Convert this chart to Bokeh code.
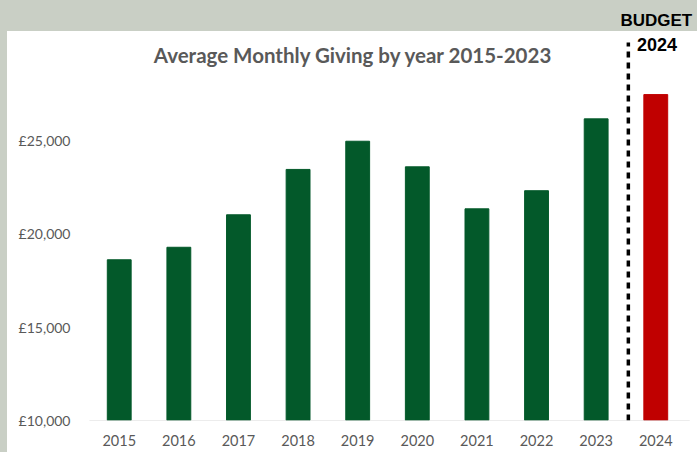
from bokeh.plotting import figure
from bokeh.models import (FactorRange, Range1d, FixedTicker, CustomJSTickFormatter,
                          Label, ColumnDataSource)
from bokeh.embed import file_html
from bokeh.resources import INLINE

years = ["2015", "2016", "2017", "2018", "2019", "2020", "2021", "2022", "2023", "2024"]
giving = [18610, 19280, 21020, 23450, 24960, 23590, 21340, 22310, 26160, 27460]
bar_colors = ["#03592a"] * 9 + ["#c00000"]
y_ticks = [10000, 15000, 20000, 25000]
title_text = "Average Monthly Giving by year 2015-2023"
budget_text = "BUDGET"
budget_year = "2024"

src = ColumnDataSource(dict(year=years, value=giving, color=bar_colors))

p = figure(width=697, height=452, output_backend="svg", toolbar_location=None,
           x_range=FactorRange(*years, range_padding=0.2, range_padding_units="absolute"),
           y_range=Range1d(10000, 32500),
           min_border_left=77, min_border_right=0, min_border_top=0, min_border_bottom=32)
p.background_fill_color = None
p.border_fill_color = None
p.outline_line_color = None
p.grid.visible = False
p.styles = {"background": "linear-gradient(to bottom, #c9cfc5 31px, transparent 31px), "
                          "linear-gradient(to right, #c9cfc5 7px, #ffffff 7px)"}

p.vbar(x="year", top="value", bottom=10000, width=0.4, color="color", source=src)

# baseline (category axis line)
p.segment(x0=[0.0], y0=[10000], x1=[10.07], y1=[10000], line_color="#d9d9d9", line_width=1)

# axes
p.yaxis.ticker = FixedTicker(ticks=y_ticks)
p.yaxis.formatter = CustomJSTickFormatter(code="return '£' + tick.toLocaleString('en-GB');")
p.yaxis.axis_line_color = None
p.yaxis.major_tick_line_color = None
p.yaxis.minor_tick_line_color = None
p.yaxis.major_tick_out = 0
p.yaxis.major_label_standoff = 7
p.yaxis.major_label_text_font = "Lato"
p.yaxis.major_label_text_font_size = "14px"
p.yaxis.major_label_text_color = "#595959"

p.xaxis.axis_line_color = None
p.xaxis.major_tick_line_color = None
p.xaxis.major_tick_out = 0
p.xaxis.major_label_standoff = 14
p.xaxis.major_label_text_font = "Lato"
p.xaxis.major_label_text_font_size = "14.5px"
p.xaxis.major_label_text_color = "#595959"

# dashed separator between actuals and budget
p.segment(x0=[9.04], y0=[10000], x1=[9.04], y1=[30250], line_color="black",
          line_width=3.5, line_dash="6 5")

p.add_layout(Label(x=4.43, y=29554, text=title_text, text_align="center",
                   text_baseline="middle", text_font="Lato", text_font_style="bold",
                   text_font_size="20.5px", text_color="#595959"))
p.add_layout(Label(x=9.51, y=31429, text=budget_text, text_align="center",
                   text_baseline="middle", text_font="Liberation Sans", text_font_style="bold",
                   text_font_size="17px", text_color="black"))
p.add_layout(Label(x=9.52, y=30143, text=budget_year, text_align="center",
                   text_baseline="middle", text_font="Liberation Sans", text_font_style="bold",
                   text_font_size="18px", text_color="black"))

open("out.html", "w").write(file_html(p, INLINE))
